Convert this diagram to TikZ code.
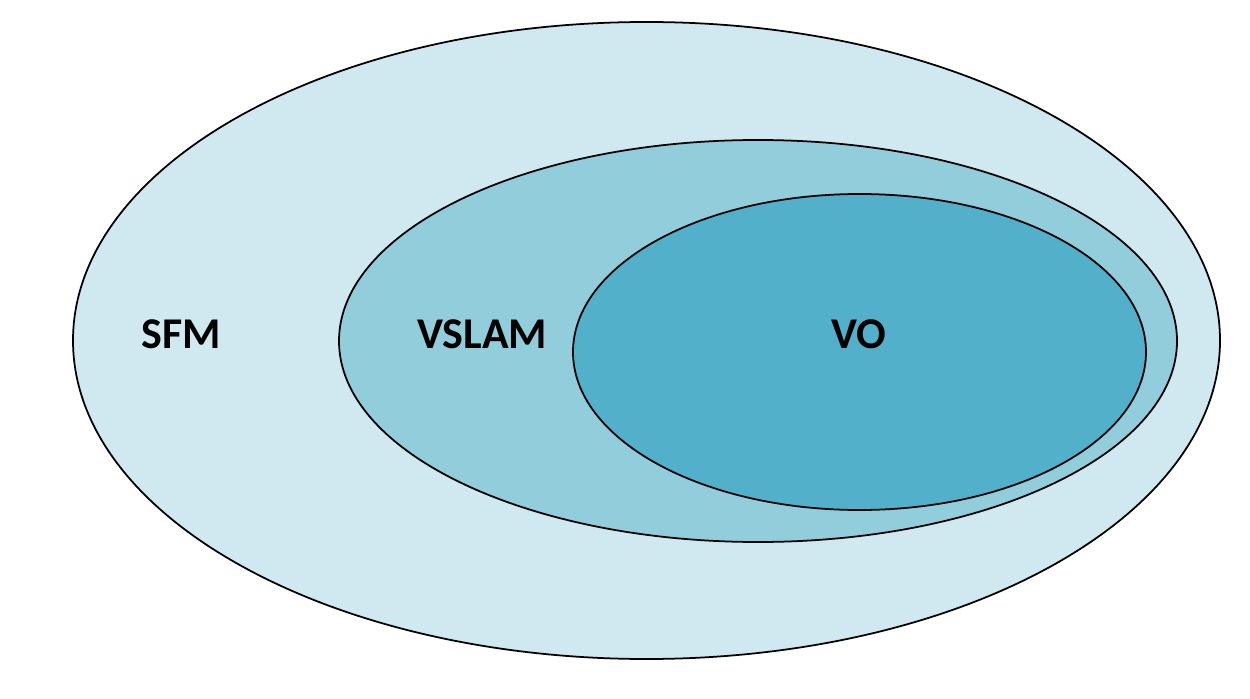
\documentclass[tikz,border=0pt]{standalone}
\usepackage{fontspec}
\setmainfont{Carlito}
\definecolor{outerc}{HTML}{D0E8EF}
\definecolor{midc}{HTML}{92CDDC}
\definecolor{innerc}{HTML}{53B0CA}
\begin{document}
\begin{tikzpicture}[x=0.02cm,y=-0.02cm,
  set/.style={draw=black,line width=1pt},
  lbl/.style={font=\bfseries\fontsize{25}{30}\selectfont,anchor=base,inner sep=0pt}]
\useasboundingbox (0,0) rectangle (1250,699);
\fill[white] (0,0) rectangle (1250,699);
\path[set,fill=outerc] (646.5,340.5) ellipse [x radius=573.5, y radius=318.5];
\path[set,fill=midc] (758,341) ellipse [x radius=419, y radius=201];
\path[set,fill=innerc] (859.5,352) ellipse [x radius=286.5, y radius=158];
\node[lbl] (sfm) at (181,348) {SFM};
\node[lbl] (vslam) at (482,348) {VSLAM};
\node[lbl] (vo) at (858.5,348) {VO};
\end{tikzpicture}
\end{document}
